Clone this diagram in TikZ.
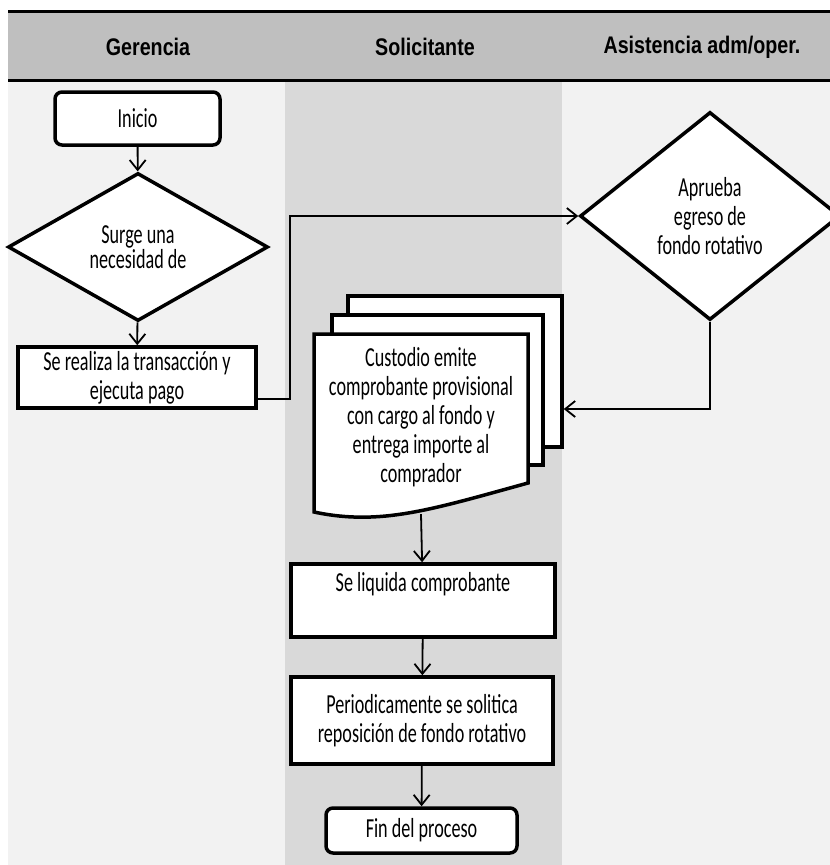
\documentclass[tikz,border=0pt]{standalone}
\usepackage{fontspec}
\setmainfont[FakeStretch=0.66]{Carlito}
\newfontfamily\hdrfont[FakeStretch=0.82]{Liberation Sans}
\usetikzlibrary{shapes.geometric,arrows.meta}
\definecolor{hdrgray}{HTML}{BFBFBF}
\definecolor{lanelight}{HTML}{F2F2F2}
\definecolor{lanedark}{HTML}{D9D9D9}

\begin{document}
\begin{tikzpicture}[
    x=1pt,y=-1pt,
    hdr/.style={font=\hdrfont\bfseries\fontsize{24}{28}\selectfont},
    box/.style={draw,line width=3.5pt,fill=white,align=center,inner sep=0pt,font=\fontsize{27.5}{29}\selectfont},
    term/.style={box,rounded corners=7pt},
    dec/.style={box,diamond,aspect=1.25,line join=miter},
    sheet/.style={draw,line width=3.5pt,fill=white,inner sep=0pt},
    arr/.style={-{Straight Barb[length=10pt,width=16pt]},line width=1.8pt}
]
\useasboundingbox (0,0) rectangle (830,865);
\fill[white] (0,0) rectangle (830,865);
\fill[hdrgray] (8,11.5) rectangle (830,80.5);
\fill[lanelight] (8,82) rectangle (285,865);
\fill[lanedark] (285,82) rectangle (562,865);
\fill[lanelight] (562,82) rectangle (830,865);
\draw[line width=3pt] (8,11.5) -- (830,11.5) (8,80.5) -- (830,80.5);
\node[hdr] (hger) at (148,47) {Gerencia};
\node[hdr] (hsol) at (425,47) {Solicitante};
\node[hdr] (hasi) at (702,47) {Asistencia adm/oper.};

\node[term,minimum width=165pt,minimum height=53pt] (inicio) at (137.5,118.5) {Inicio};
\node[dec,minimum width=260pt,minimum height=148pt,font=\fontsize{27.5}{23.5}\selectfont] (surge) at (138,247) {Surge una\\necesidad de};
\node[box,minimum width=238pt,minimum height=61pt] (realiza) at (137,377.5) {Se realiza la transacción y\\ejecuta pago};
\node[dec,minimum width=260pt,minimum height=208pt] (aprueba) at (710,216) {Aprueba\\egreso de\\fondo rotativo};
\node[sheet,minimum width=214pt,minimum height=151pt] (sheet3) at (455,371.5) {};
\node[sheet,minimum width=211pt,minimum height=150pt] (sheet2) at (437.5,390) {};
\filldraw[fill=white,line width=3.5pt,line join=miter] (528,334) -- (314,334) -- (314,512)
    .. controls (380,526) and (430,510) .. (528,483) -- cycle;
\node[align=center,inner sep=0pt,font=\fontsize{27.5}{29}\selectfont,minimum width=214pt,minimum height=167pt] (doc) at (421,417.5) {Custodio emite\\comprobante provisional\\con cargo al fondo y\\entrega importe al\\comprador};
\node[box,minimum width=264pt,minimum height=73pt] (liquida) at (423,600.5) {Se liquida comprobante\\\strut};
\node[box,minimum width=262pt,minimum height=87pt] (periodo) at (422,720.5) {Periodicamente se solitica\\reposición de fondo rotativo};
\node[term,minimum width=191pt,minimum height=45pt] (fin) at (421.5,830.5) {Fin del proceso};

\draw[arr] (inicio) -- (surge);
\draw[arr] (surge) -- (realiza);
\draw[arr] ([yshift=-21.5pt]realiza.east) -- ++(32,0) |- (aprueba.west);
\draw[arr] (aprueba.south) |- ([yshift=-37.5pt]sheet3.east);
\draw[arr] ([yshift=-13pt]doc.south) -- (liquida);
\draw[arr] (liquida) -- (periodo);
\draw[arr] (periodo) -- (fin);
\end{tikzpicture}
\end{document}
